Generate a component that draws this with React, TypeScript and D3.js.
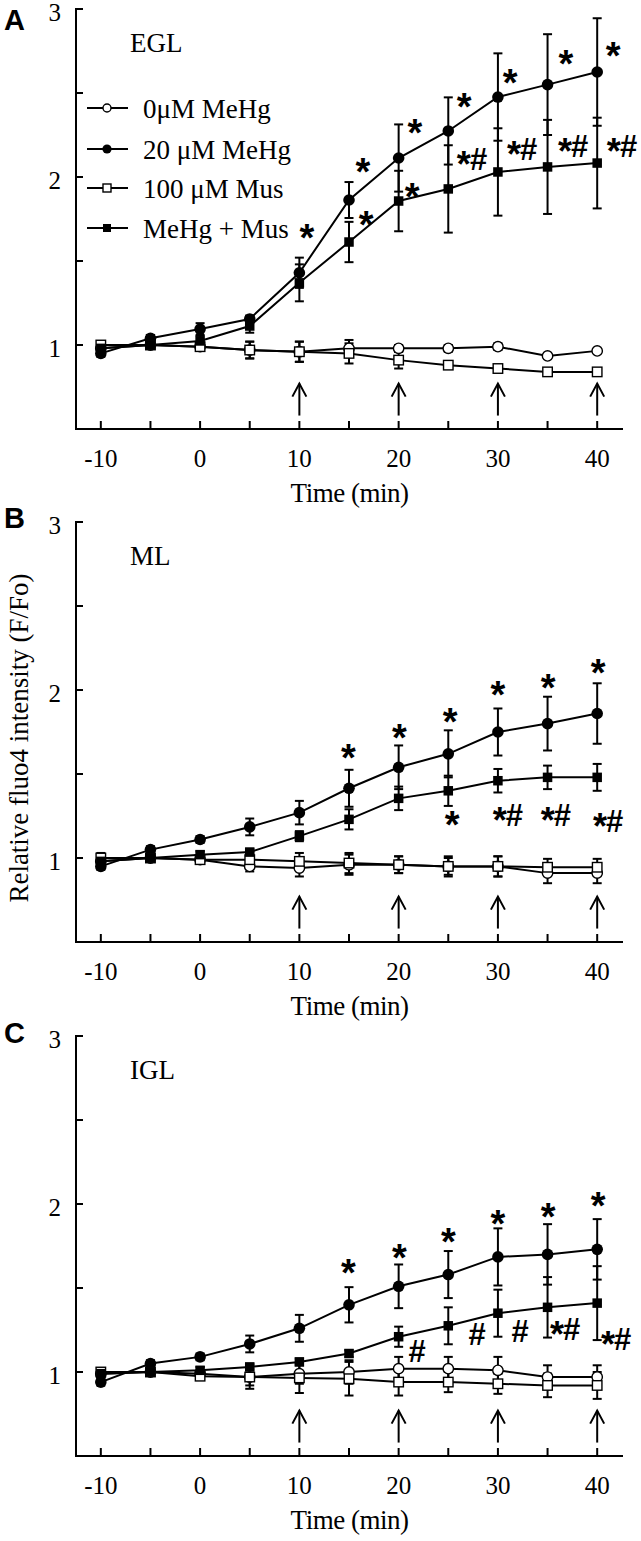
import React from "react";
import * as d3 from "d3";

// ---------- data ----------
const times = [-10, -5, 0, 5, 10, 15, 20, 25, 30, 35, 40];
const seriesNames = ["0μM MeHg", "20 μM MeHg", "100 μM Mus", "MeHg + Mus"];
const markerKinds = ["openCircle", "filledCircle", "openSquare", "filledSquare"];
const panelTitles = ["EGL", "ML", "IGL"];
const panelLetters = ["A", "B", "C"];
const yTicks = [1, 1.5, 2, 2.5, 3];
const yTickLabels = [1, 2, 3];
const xTicks = [-10, -5, 0, 5, 10, 15, 20, 25, 30, 35, 40];
const xTickLabels = [-10, 0, 10, 20, 30, 40];
const arrowTimes = [10, 20, 30, 40];
const arrowRange = [0.58, 0.77];

// EGL
const eglCtrl = [0.98, 1.0, 0.99, 0.97, 0.96, 0.98, 0.98, 0.98, 0.99, 0.935, 0.965];
const eglCtrlErr = [0.02, 0.02, 0.02, 0.05, 0.06, 0.05, 0.02, 0.02, 0.02, 0.01, 0.01];
const eglMehg = [0.95, 1.04, 1.095, 1.155, 1.43, 1.863, 2.113, 2.274, 2.476, 2.55, 2.625];
const eglMehgErr = [0.02, 0.02, 0.035, 0.02, 0.09, 0.107, 0.2, 0.2, 0.26, 0.3, 0.32];
const eglMus = [1.0, 1.0, 0.99, 0.97, 0.96, 0.95, 0.91, 0.88, 0.86, 0.84, 0.84];
const eglMusErr = [0.02, 0.02, 0.02, 0.05, 0.06, 0.06, 0.05, 0.01, 0.01, 0.01, 0.01];
const eglBoth = [0.98, 1.0, 1.024, 1.113, 1.37, 1.613, 1.857, 1.929, 2.03, 2.06, 2.083];
const eglBothErr = [0.02, 0.02, 0.03, 0.04, 0.11, 0.12, 0.18, 0.26, 0.26, 0.28, 0.27];

// ML
const mlCtrl = [0.98, 1.0, 0.99, 0.95, 0.94, 0.96, 0.96, 0.95, 0.95, 0.91, 0.91];
const mlCtrlErr = [0.02, 0.02, 0.02, 0.03, 0.05, 0.06, 0.05, 0.05, 0.06, 0.06, 0.06];
const mlMehg = [0.95, 1.05, 1.11, 1.185, 1.27, 1.415, 1.54, 1.62, 1.75, 1.8, 1.86];
const mlMehgErr = [0.02, 0.02, 0.02, 0.05, 0.07, 0.11, 0.13, 0.14, 0.14, 0.16, 0.18];
const mlMus = [1.0, 1.0, 0.99, 0.99, 0.98, 0.97, 0.96, 0.95, 0.95, 0.945, 0.945];
const mlMusErr = [0.03, 0.02, 0.02, 0.04, 0.05, 0.06, 0.05, 0.06, 0.06, 0.05, 0.05];
const mlBoth = [0.98, 1.0, 1.02, 1.035, 1.13, 1.23, 1.355, 1.4, 1.46, 1.48, 1.48];
const mlBothErr = [0.02, 0.02, 0.02, 0.02, 0.03, 0.06, 0.07, 0.09, 0.07, 0.07, 0.08];

// IGL
const iglCtrl = [0.99, 1.0, 0.99, 0.97, 0.99, 1.0, 1.02, 1.02, 1.01, 0.97, 0.97];
const iglCtrlErr = [0.02, 0.02, 0.02, 0.05, 0.06, 0.07, 0.07, 0.07, 0.08, 0.07, 0.07];
const iglMehg = [0.94, 1.05, 1.09, 1.167, 1.26, 1.4, 1.51, 1.58, 1.685, 1.7, 1.73];
const iglMehgErr = [0.02, 0.02, 0.02, 0.05, 0.08, 0.105, 0.13, 0.14, 0.17, 0.18, 0.18];
const iglMus = [1.0, 1.0, 0.975, 0.97, 0.965, 0.96, 0.94, 0.94, 0.93, 0.92, 0.92];
const iglMusErr = [0.02, 0.02, 0.02, 0.07, 0.09, 0.1, 0.08, 0.06, 0.06, 0.07, 0.08];
const iglBoth = [0.99, 1.0, 1.01, 1.03, 1.06, 1.11, 1.21, 1.275, 1.35, 1.385, 1.41];
const iglBothErr = [0.02, 0.02, 0.02, 0.02, 0.02, 0.02, 0.06, 0.11, 0.14, 0.18, 0.22];

// significance marks (time, value of text baseline, text)
const eglMarks = [
  { t: 10.77, v: 1.595, s: "*" }, { t: 16.41, v: 1.988, s: "*" }, { t: 16.72, v: 1.673, s: "*" },
  { t: 21.65, v: 2.22, s: "*" }, { t: 21.35, v: 1.839, s: "*" }, { t: 26.59, v: 2.375, s: "*" },
  { t: 27.39, v: 2.042, s: "*#" }, { t: 31.22, v: 2.518, s: "*" }, { t: 32.43, v: 2.101, s: "*#" },
  { t: 36.86, v: 2.631, s: "*" }, { t: 37.57, v: 2.119, s: "*#" }, { t: 41.6, v: 2.679, s: "*" },
  { t: 42.5, v: 2.119, s: "*#" },
];
const mlMarks = [
  { t: 14.93, v: 1.554, s: "*" }, { t: 20.07, v: 1.673, s: "*" }, { t: 25.2, v: 1.768, s: "*" },
  { t: 30.0, v: 1.929, s: "*" }, { t: 35.05, v: 1.97, s: "*" }, { t: 40.09, v: 2.06, s: "*" },
  { t: 25.4, v: 1.155, s: "*" }, { t: 31.0, v: 1.19, s: "*#" }, { t: 35.85, v: 1.19, s: "*#" },
  { t: 41.1, v: 1.155, s: "*#" },
];
const iglMarks = [
  { t: 14.93, v: 1.548, s: "*" }, { t: 20.07, v: 1.637, s: "*" }, { t: 25.0, v: 1.732, s: "*" },
  { t: 30.0, v: 1.839, s: "*" }, { t: 35.05, v: 1.881, s: "*" }, { t: 40.09, v: 1.946, s: "*" },
  { t: 21.85, v: 1.06, s: "#" }, { t: 27.9, v: 1.161, s: "#" }, { t: 32.23, v: 1.179, s: "#" },
  { t: 36.76, v: 1.19, s: "*#" }, { t: 41.9, v: 1.131, s: "*#" },
];

const panels = [
  { title: panelTitles[0], letter: panelLetters[0], series: [eglCtrl, eglMehg, eglMus, eglBoth], errs: [eglCtrlErr, eglMehgErr, eglMusErr, eglBothErr], marks: eglMarks },
  { title: panelTitles[1], letter: panelLetters[1], series: [mlCtrl, mlMehg, mlMus, mlBoth], errs: [mlCtrlErr, mlMehgErr, mlMusErr, mlBothErr], marks: mlMarks },
  { title: panelTitles[2], letter: panelLetters[2], series: [iglCtrl, iglMehg, iglMus, iglBoth], errs: [iglCtrlErr, iglMehgErr, iglMusErr, iglBothErr], marks: iglMarks },
];

// ---------- layout ----------
const W = 641;
const H = 1541;
const panelOffsets = [0, 513, 1027];
const letterBaselines = [30, 528, 1043];
const plotTop = 9;
const plotBottom = 429;
const axisLeft = 76;
const axisRight = 623;
const SERIF = "'Liberation Serif', 'Times New Roman', serif";
const SANS = "'Liberation Sans', Arial, sans-serif";

const x = d3.scaleLinear().domain([-12.5, 42.6]).range([axisLeft, axisRight]);

function Marker({ kind, cx, cy, small }: { kind: string; cx: number; cy: number; small?: boolean }) {
  const r = small ? 4 : 5.2;
  const s = small ? 8 : 9.5;
  if (kind === "openCircle")
    return <circle cx={cx} cy={cy} r={r} fill="#fff" stroke="#000" strokeWidth={1.4} />;
  if (kind === "filledCircle") return <circle cx={cx} cy={cy} r={r + 0.6} fill="#000" />;
  if (kind === "openSquare")
    return <rect x={cx - s / 2} y={cy - s / 2} width={s} height={s} fill="#fff" stroke="#000" strokeWidth={1.4} />;
  return <rect x={cx - s / 2} y={cy - s / 2} width={s} height={s} fill="#000" />;
}

function Mark({ cx, by, s }: { cx: number; by: number; s: string }) {
  if (s === "*")
    return (
      <text x={cx} y={by + 6} textAnchor="middle" fontFamily={SANS} fontWeight="bold" fontSize={38}>*</text>
    );
  if (s === "#")
    return (
      <text x={cx} y={by} textAnchor="middle" fontFamily={SANS} fontWeight="bold" fontSize={31}>#</text>
    );
  return (
    <text x={cx} y={by} textAnchor="middle" fontFamily={SANS} fontWeight="bold" fontSize={31}>
      <tspan fontSize={36} dy={7} dx={0}>*</tspan>
      <tspan dy={-7} dx={-1}>#</tspan>
    </text>
  );
}

function Panel({ idx }: { idx: number }) {
  const p = panels[idx];
  const off = panelOffsets[idx];
  const y = d3.scaleLinear().domain([0.5, 3]).range([plotBottom + off, plotTop + off]);
  const line = d3
    .line<number>()
    .x((_, i) => x(times[i]))
    .y((d) => y(d));
  const capW = 4.5;
  return (
    <g>
      {/* axes */}
      <line x1={axisLeft} x2={axisLeft} y1={y(3) - 1} y2={y(0.5)} stroke="#000" strokeWidth={2} />
      <line x1={axisLeft - 1} x2={axisRight} y1={y(0.5)} y2={y(0.5)} stroke="#000" strokeWidth={2} />
      {yTicks.map((t) => (
        <line key={"yt" + t} x1={axisLeft} x2={axisLeft + 7} y1={y(t)} y2={y(t)} stroke="#000" strokeWidth={2} />
      ))}
      {yTickLabels.map((t) => (
        <text key={"yl" + t} x={61} y={y(t) + 12} textAnchor="end" fontFamily={SERIF} fontSize={25}>
          {t}
        </text>
      ))}
      {xTicks.map((t) => (
        <line key={"xt" + t} x1={x(t)} x2={x(t)} y1={y(0.5)} y2={y(0.5) - 8} stroke="#000" strokeWidth={2} />
      ))}
      {xTickLabels.map((t) => (
        <text key={"xl" + t} x={x(t)} y={y(0.5) + 38} textAnchor="middle" fontFamily={SERIF} fontSize={25}>
          {t}
        </text>
      ))}
      <text x={(axisLeft + axisRight) / 2} y={y(0.5) + 73} textAnchor="middle" fontFamily={SERIF} fontSize={27} letterSpacing={-0.5}>
        Time (min)
      </text>
      <text x={4} y={letterBaselines[idx]} fontFamily={SANS} fontWeight="bold" fontSize={29}>
        {p.letter}
      </text>
      <text x={130} y={off + 52} fontFamily={SERIF} fontSize={27}>
        {p.title}
      </text>

      {/* arrows */}
      {arrowTimes.map((t) => (
        <g key={"ar" + t} stroke="#000" strokeWidth={2} fill="none">
          <line x1={x(t)} x2={x(t)} y1={y(arrowRange[0])} y2={y(arrowRange[1])} />
          <polyline points={`${x(t) - 7},${y(arrowRange[1]) + 13} ${x(t)},${y(arrowRange[1])} ${x(t) + 7},${y(arrowRange[1]) + 13}`} />
        </g>
      ))}

      {/* error bars */}
      {p.series.map((s, si) =>
        s.map((v, i) => {
          const e = p.errs[si][i];
          const cx = x(times[i]);
          return (
            <g key={`eb${si}-${i}`} stroke="#000" strokeWidth={2}>
              <line x1={cx} x2={cx} y1={y(v - e)} y2={y(v + e)} />
              <line x1={cx - capW} x2={cx + capW} y1={y(v - e)} y2={y(v - e)} />
              <line x1={cx - capW} x2={cx + capW} y1={y(v + e)} y2={y(v + e)} />
            </g>
          );
        })
      )}
      {/* lines */}
      {p.series.map((s, si) => (
        <path key={"ln" + si} d={line(s) || ""} fill="none" stroke="#000" strokeWidth={2} />
      ))}
      {/* markers */}
      {p.series.map((s, si) =>
        s.map((v, i) => <Marker key={`mk${si}-${i}`} kind={markerKinds[si]} cx={x(times[i])} cy={y(v)} />)
      )}
      {/* significance */}
      {p.marks.map((m, i) => (
        <Mark key={"sg" + i} cx={x(m.t)} by={y(m.v)} s={m.s} />
      ))}
    </g>
  );
}

function Legend() {
  const rows = [108, 149, 188, 228];
  return (
    <g>
      {seriesNames.map((n, i) => (
        <g key={n}>
          <line x1={87} x2={128} y1={rows[i]} y2={rows[i]} stroke="#000" strokeWidth={2} />
          <Marker kind={markerKinds[i]} cx={107} cy={rows[i]} small />
          <text x={143} y={rows[i] + 10} fontFamily={SERIF} fontSize={27}>
            {n}
          </text>
        </g>
      ))}
    </g>
  );
}

export default function App() {
  return (
    <svg width={W} height={H} style={{ position: "absolute", left: 0, top: 0, background: "#fff" }}>
      <rect width={W} height={H} fill="#fff" />
      {panels.map((_, i) => (
        <Panel key={i} idx={i} />
      ))}
      <Legend />
      <text transform="translate(28,738) rotate(-90)" textAnchor="middle" fontFamily={SERIF} fontSize={27}>
        Relative fluo4 intensity (F/Fo)
      </text>
    </svg>
  );
}
